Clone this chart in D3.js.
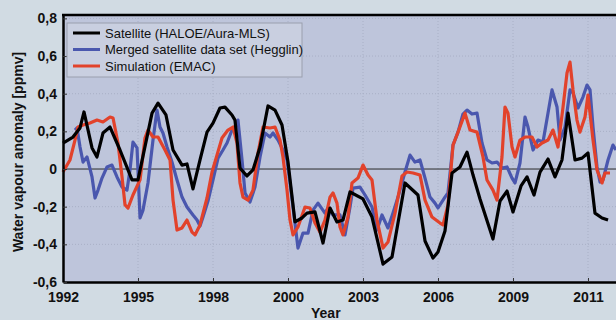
<!DOCTYPE html>
<html>
<head>
<meta charset="utf-8">
<script src="https://cdn.jsdelivr.net/npm/d3@7/dist/d3.min.js"></script>
<style>
  html, body { margin: 0; padding: 0; background: #d1dbe3; overflow: hidden; }
  svg { display: block; font-family: "Liberation Sans", Arial, sans-serif; }
</style>
</head>
<body>
<div id="chart"></div>
<script>
// x positions are in axis units: one unit per labelled tick (labels as printed)
var tickLabels = ["1992", "1995", "1998", "2000", "2003", "2006", "2009", "2011"];
var tickPos = [0, 1, 2, 3, 4, 5, 6, 7];
var yTicks = [0.8, 0.6, 0.4, 0.2, 0, -0.2, -0.4, -0.6];

// Satellite (HALOE/Aura-MLS)
var satT = [0, 0.133, 0.227, 0.28, 0.387, 0.453, 0.533, 0.627, 0.76, 0.92, 1.0, 1.187, 1.267, 1.373, 1.467, 1.587, 1.653, 1.733, 1.827, 1.92, 2.0, 2.093, 2.16, 2.253, 2.293, 2.36, 2.453, 2.533, 2.627, 2.733, 2.827, 2.92, 3.0, 3.093, 3.187, 3.253, 3.36, 3.467, 3.56, 3.653, 3.733, 3.827, 4.0, 4.12, 4.267, 4.387, 4.56, 4.733, 4.827, 4.933, 5.0, 5.093, 5.187, 5.293, 5.387, 5.467, 5.56, 5.733, 5.827, 5.92, 6.0, 6.107, 6.187, 6.28, 6.36, 6.467, 6.56, 6.653, 6.733, 6.827, 6.92, 7.0, 7.093, 7.187, 7.267];
var satV = [0.138, 0.170, 0.218, 0.303, 0.112, 0.064, 0.191, 0.223, 0.101, -0.058, -0.058, 0.297, 0.350, 0.287, 0.101, 0.021, 0.027, -0.106, 0.048, 0.196, 0.244, 0.324, 0.329, 0.287, 0.260, 0.005, -0.037, -0.005, 0.117, 0.335, 0.313, 0.234, 0.037, -0.281, -0.260, -0.234, -0.228, -0.393, -0.207, -0.281, -0.271, -0.122, -0.159, -0.255, -0.505, -0.467, -0.074, -0.138, -0.382, -0.473, -0.441, -0.329, -0.021, 0.011, 0.090, -0.032, -0.159, -0.372, -0.170, -0.117, -0.228, -0.090, -0.042, -0.138, -0.016, 0.053, -0.042, 0.048, 0.297, 0.048, 0.058, 0.085, -0.234, -0.260, -0.271];

// Merged satellite data set (Hegglin)
var mrgT = [0.16, 0.187, 0.227, 0.267, 0.32, 0.387, 0.427, 0.467, 0.52, 0.587, 0.653, 0.72, 0.787, 0.853, 0.893, 0.933, 0.987, 1.027, 1.067, 1.133, 1.2, 1.253, 1.293, 1.333, 1.387, 1.453, 1.52, 1.587, 1.653, 1.733, 1.787, 1.827, 1.867, 1.933, 2.0, 2.067, 2.133, 2.187, 2.253, 2.293, 2.333, 2.387, 2.427, 2.493, 2.56, 2.627, 2.693, 2.76, 2.8, 2.867, 2.92, 2.987, 3.027, 3.093, 3.133, 3.2, 3.267, 3.333, 3.4, 3.493, 3.533, 3.6, 3.693, 3.76, 3.827, 3.867, 3.96, 4.027, 4.12, 4.187, 4.253, 4.333, 4.4, 4.467, 4.56, 4.627, 4.693, 4.76, 4.827, 4.893, 4.96, 5.0, 5.093, 5.133, 5.2, 5.267, 5.333, 5.387, 5.453, 5.52, 5.587, 5.653, 5.72, 5.787, 5.853, 5.92, 5.987, 6.027, 6.093, 6.16, 6.2, 6.267, 6.333, 6.4, 6.467, 6.52, 6.587, 6.627, 6.693, 6.76, 6.8, 6.867, 6.933, 6.987, 7.027, 7.067, 7.12, 7.16, 7.2, 7.267, 7.333, 7.373];
var mrgV = [0.207, 0.218, 0.117, 0.037, 0.064, -0.042, -0.154, -0.112, -0.048, 0.011, 0.021, -0.042, -0.096, -0.112, -0.005, 0.143, 0.112, -0.260, -0.218, -0.074, 0.154, 0.313, 0.223, 0.191, 0.117, 0.037, -0.058, -0.149, -0.202, -0.244, -0.271, -0.303, -0.255, -0.170, -0.058, 0.058, 0.101, 0.138, 0.207, 0.223, 0.260, 0.048, -0.127, -0.175, -0.096, 0.064, 0.191, 0.170, 0.191, 0.154, 0.112, 0.048, -0.074, -0.287, -0.420, -0.340, -0.340, -0.218, -0.181, -0.234, -0.207, -0.244, -0.244, -0.350, -0.202, -0.101, -0.096, -0.138, -0.202, -0.324, -0.244, -0.313, -0.234, -0.149, -0.016, 0.074, 0.037, 0.048, -0.048, -0.149, -0.181, -0.207, -0.149, -0.127, 0.127, 0.196, 0.292, 0.313, 0.292, 0.297, 0.138, 0.048, 0.032, 0.037, 0.005, 0.011, -0.048, -0.074, 0.032, 0.276, 0.223, 0.101, 0.154, 0.143, 0.297, 0.420, 0.329, 0.154, 0.223, 0.420, 0.404, 0.324, 0.382, 0.446, 0.420, 0.223, 0.011, -0.069, -0.058, 0.048, 0.127, 0.101];

// Simulation (EMAC)
var simT = [0, 0.093, 0.16, 0.2, 0.267, 0.36, 0.453, 0.533, 0.627, 0.667, 0.733, 0.787, 0.827, 0.867, 0.933, 1.027, 1.093, 1.133, 1.2, 1.267, 1.36, 1.427, 1.467, 1.52, 1.587, 1.653, 1.72, 1.76, 1.827, 1.92, 1.987, 2.053, 2.12, 2.2, 2.267, 2.32, 2.36, 2.4, 2.467, 2.533, 2.6, 2.667, 2.76, 2.827, 2.893, 2.933, 2.987, 3.027, 3.067, 3.133, 3.227, 3.293, 3.36, 3.427, 3.493, 3.56, 3.6, 3.653, 3.693, 3.733, 3.8, 3.853, 3.933, 4.0, 4.067, 4.12, 4.187, 4.267, 4.333, 4.427, 4.52, 4.587, 4.667, 4.76, 4.827, 4.92, 5.027, 5.067, 5.133, 5.2, 5.267, 5.36, 5.427, 5.52, 5.6, 5.653, 5.733, 5.787, 5.853, 5.893, 5.933, 5.987, 6.027, 6.093, 6.16, 6.253, 6.32, 6.387, 6.467, 6.533, 6.6, 6.667, 6.72, 6.76, 6.8, 6.853, 6.893, 6.96, 7.0, 7.067, 7.12, 7.187, 7.227, 7.293];
var simV = [-0.016, 0.048, 0.154, 0.223, 0.234, 0.244, 0.260, 0.250, 0.276, 0.271, 0.138, -0.042, -0.191, -0.207, -0.138, -0.058, 0.165, 0.207, 0.170, 0.170, 0.101, 0.048, -0.165, -0.324, -0.313, -0.271, -0.335, -0.350, -0.297, -0.154, -0.016, 0.074, 0.165, 0.207, 0.223, 0.138, -0.074, -0.149, -0.165, -0.112, 0.085, 0.223, 0.218, 0.223, 0.154, 0.064, -0.112, -0.271, -0.350, -0.308, -0.202, -0.207, -0.287, -0.335, -0.271, -0.149, -0.127, -0.181, -0.308, -0.350, -0.255, -0.074, -0.048, 0.021, -0.032, -0.058, -0.271, -0.420, -0.388, -0.234, -0.037, -0.016, -0.021, -0.032, -0.165, -0.255, -0.287, -0.297, -0.191, 0.127, 0.196, 0.297, 0.207, 0.196, 0.064, -0.058, -0.112, -0.165, 0.064, 0.329, 0.297, 0.117, 0.064, 0.154, 0.170, 0.170, 0.117, 0.138, 0.154, 0.207, 0.117, 0.329, 0.510, 0.568, 0.420, 0.260, 0.196, 0.276, 0.393, 0.154, -0.005, -0.074, -0.021, -0.021];

var seriesNames = ["Satellite (HALOE/Aura-MLS)", "Merged satellite data set (Hegglin)", "Simulation (EMAC)"];
var seriesColors = ["#000000", "#4a57ae", "#e2422b"];

var W = 616, H = 320;
var margin = { top: 15, left: 63, bottom: 38 };
var x = d3.scaleLinear().domain([0, 7.4]).range([margin.left, margin.left + 75 * 7.4]);
var y = d3.scaleLinear().domain([-0.6, 0.818]).range([H - margin.bottom, margin.top]);

var svg = d3.select("#chart").append("svg")
  .attr("width", W)
  .attr("height", H);

// plot background
svg.append("rect")
  .attr("x", x(0)).attr("y", y(0.818))
  .attr("width", x(7.4) - x(0)).attr("height", y(-0.6) - y(0.818))
  .attr("fill", "#bec5db");

// dotted grid
svg.append("g").selectAll("line")
  .data(tickPos.slice(1))
  .enter().append("line")
  .attr("x1", function (d) { return x(d); }).attr("x2", function (d) { return x(d); })
  .attr("y1", y(0.818)).attr("y2", y(-0.6))
  .attr("stroke", "#a9b0c6").attr("stroke-width", 1).attr("stroke-dasharray", "1,2");
svg.append("g").selectAll("line")
  .data(yTicks.filter(function (d) { return d !== 0 && d !== -0.6; }))
  .enter().append("line")
  .attr("x1", x(0)).attr("x2", x(7.4))
  .attr("y1", function (d) { return y(d); }).attr("y2", function (d) { return y(d); })
  .attr("stroke", "#a9b0c6").attr("stroke-width", 1).attr("stroke-dasharray", "1,2");

// zero line
svg.append("line")
  .attr("x1", x(0)).attr("x2", x(7.4))
  .attr("y1", y(0)).attr("y2", y(0))
  .attr("stroke", "#2a2a2a").attr("stroke-width", 1);

// series
var line = d3.line()
  .x(function (d) { return x(d[0]); })
  .y(function (d) { return y(d[1]); });

var series = [d3.zip(satT, satV), d3.zip(mrgT, mrgV), d3.zip(simT, simV)];
// draw order: satellite on top
[1, 2, 0].forEach(function (i) {
  svg.append("path")
    .datum(series[i])
    .attr("d", line)
    .attr("fill", "none")
    .attr("stroke", seriesColors[i])
    .attr("stroke-width", 3.2)
    .attr("stroke-linejoin", "round");
});

// axes
var xAxis = d3.axisBottom(x)
  .tickValues(tickPos)
  .tickFormat(function (d, i) { return tickLabels[i]; })
  .tickSizeInner(-4).tickSizeOuter(0).tickPadding(10);
var gx = svg.append("g")
  .attr("transform", "translate(0," + y(-0.6) + ")")
  .call(xAxis);
gx.select(".domain").attr("stroke", "#000").attr("stroke-width", 2.5);
gx.selectAll(".tick line").attr("stroke", "#333");
gx.selectAll("text")
  .attr("font-size", "14px").attr("font-weight", "bold").attr("fill", "#111");

var yAxis = d3.axisLeft(y)
  .tickValues(yTicks)
  .tickFormat(function (d) { return d === 0 ? "0" : d3.format(".1f")(d).replace(".", ",").replace("−", "-"); })
  .tickSizeInner(-4).tickSizeOuter(0).tickPadding(6);
var gy = svg.append("g")
  .attr("transform", "translate(" + x(0) + ",0)")
  .call(yAxis);
gy.select(".domain").attr("stroke", "#000").attr("stroke-width", 2.5);
gy.selectAll(".tick line").attr("stroke", "#333");
gy.selectAll("text")
  .attr("font-size", "14px").attr("font-weight", "bold").attr("fill", "#111");

// top frame
svg.append("line")
  .attr("x1", x(0) - 1).attr("x2", W)
  .attr("y1", y(0.818)).attr("y2", y(0.818))
  .attr("stroke", "#000").attr("stroke-width", 2.5);

// axis titles
svg.append("text")
  .attr("x", 311).attr("y", 318)
  .attr("font-size", "14px").attr("font-weight", "bold").attr("fill", "#111")
  .text("Year");
svg.append("text")
  .attr("transform", "translate(23,152) rotate(-90)")
  .attr("text-anchor", "middle")
  .attr("font-size", "14px").attr("font-weight", "bold").attr("fill", "#111")
  .text("Water vapour anomaly [ppmv]");

// legend
var legend = svg.append("g").attr("transform", "translate(67,23)");
legend.append("rect")
  .attr("width", 235).attr("height", 54)
  .attr("fill", "#c9cfe0").attr("stroke", "#9a9fae").attr("stroke-width", 1);
seriesNames.forEach(function (name, i) {
  var ly = 10 + i * 16.5;
  legend.append("line")
    .attr("x1", 6).attr("x2", 33)
    .attr("y1", ly).attr("y2", ly)
    .attr("stroke", seriesColors[i]).attr("stroke-width", 3);
  legend.append("text")
    .attr("x", 38).attr("y", ly + 4.5)
    .attr("font-size", "13px").attr("fill", "#111")
    .text(name);
});
</script>
</body>
</html>
